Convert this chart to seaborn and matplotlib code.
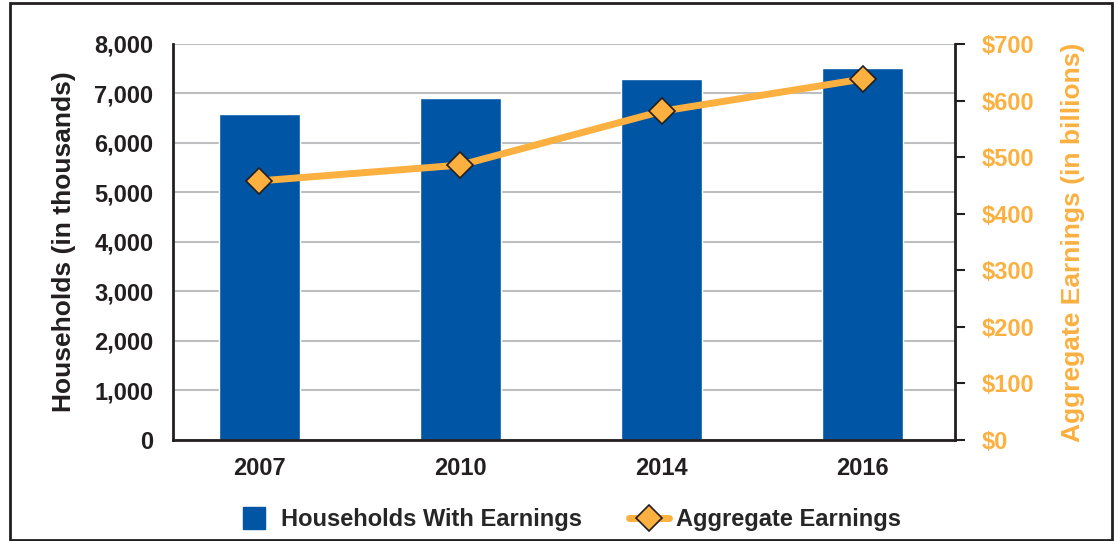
import matplotlib
matplotlib.use('Agg')
import matplotlib.pyplot as plt
import seaborn as sns
from matplotlib.lines import Line2D
from matplotlib.patches import Rectangle
from matplotlib.ticker import FuncFormatter

# %% data
years = ['2007', '2010', '2014', '2016']
households = [6590, 6900, 7300, 7510]      # thousands
earnings = [458, 486, 581, 638]            # billions of dollars

blue = '#0055a5'
orange = '#fbb040'
dark = '#231f20'

sns.set_style('white')
plt.rcParams['font.family'] = ['Liberation Sans', 'DejaVu Sans']
plt.rcParams['font.weight'] = 'bold'

fig = plt.figure(figsize=(11.17, 5.41), dpi=100)
ax1 = fig.add_axes([0.1549, 0.1867, 0.7001, 0.732])

sns.barplot(x=years, y=households, color=blue, width=0.4, saturation=1,
            ax=ax1, zorder=2)
ax1.set_ylim(0, 8000)
ax1.set_xlim(-0.43, 3.46)
ax1.set_yticks(range(0, 8001, 1000))
ax1.yaxis.set_major_formatter(FuncFormatter(lambda v, p: f'{int(v):,}'))
ax1.grid(axis='y', color='#bcbec0', linewidth=1.5, zorder=0)
ax1.set_axisbelow(True)
ax1.set_ylabel('Households (in thousands)', fontsize=19, fontweight='bold',
               color=dark, labelpad=13)
ax1.tick_params(axis='y', length=0, pad=14, labelsize=17, labelcolor=dark)
ax1.tick_params(axis='x', length=0, pad=12, labelsize=17, labelcolor=dark)
for s in ['top', 'right']:
    ax1.spines[s].set_visible(False)
for s in ['left', 'bottom']:
    ax1.spines[s].set_color(dark)
    ax1.spines[s].set_linewidth(2)

ax2 = ax1.twinx()
sns.pointplot(x=years, y=earnings, ax=ax2, color=orange, markers='D',
              markersize=13, linewidth=5, markeredgecolor=dark,
              markeredgewidth=1.2, errorbar=None, zorder=5)
ax2.set_xlim(-0.43, 3.46)
ax2.set_ylim(0, 700)
ax2.set_yticks(range(0, 701, 100))
ax2.yaxis.set_major_formatter(FuncFormatter(lambda v, p: f'${int(v)}'))
ax2.tick_params(axis='y', direction='out', length=7, width=1.5, color=dark,
                pad=12, labelsize=17, labelcolor=orange)
ax2.set_ylabel('Aggregate Earnings (in billions)', fontsize=19,
               fontweight='bold', color=orange, labelpad=19)
for s in ['top', 'left', 'bottom']:
    ax2.spines[s].set_visible(False)
ax2.spines['right'].set_color(dark)
ax2.spines['right'].set_linewidth(2)
ax2.grid(False)

handles = [
    Line2D([0], [0], linestyle='none', marker='s', markersize=16,
           markerfacecolor=blue, markeredgecolor=blue),
    Line2D([0], [0], color=orange, linewidth=5, marker='D', markersize=13,
           markerfacecolor=orange, markeredgecolor=dark, markeredgewidth=1.2),
]
fig.legend(handles, ['Households With Earnings', 'Aggregate Earnings'],
           loc='center', bbox_to_anchor=(0.508, 0.04), ncol=2, frameon=False,
           fontsize=17, columnspacing=2.0, handlelength=1.7,
           handletextpad=0.3)

# figure frame
fig.patches.append(Rectangle((10 / 1117, 1 / 541), 1102 / 1117, 537 / 541,
                             transform=fig.transFigure, fill=False,
                             edgecolor=dark, linewidth=2))

fig.savefig('out.png', dpi=100)
